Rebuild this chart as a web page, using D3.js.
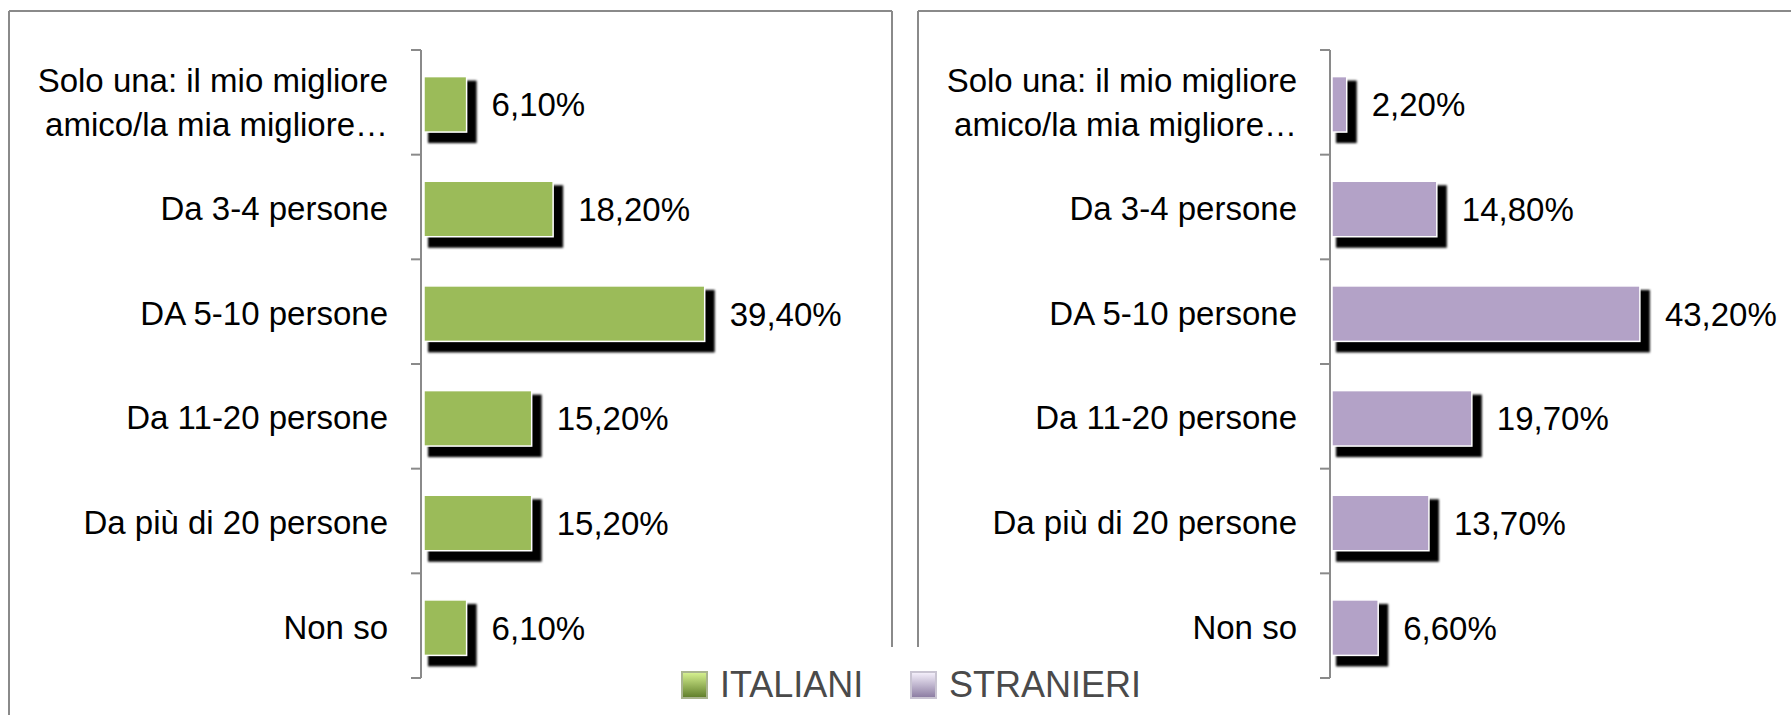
<!DOCTYPE html>
<html>
<head>
<meta charset="utf-8">
<script src="https://cdn.jsdelivr.net/npm/d3@7"></script>
<style>
  html, body { margin: 0; padding: 0; background: #fff; }
  svg { display: block; font-family: 'Liberation Sans', Arial, sans-serif; }
</style>
</head>
<body>
<div id="chart"></div>
<script>
// categories (top to bottom), each as its printed lines
const categories = [
  ['Solo una: il mio migliore', 'amico/la mia migliore…'],
  ['Da 3-4 persone'],
  ['DA 5-10 persone'],
  ['Da 11-20 persone'],
  ['Da più di 20 persone'],
  ['Non so'],
]
const seriesNames = ['ITALIANI', 'STRANIERI']
const italiani = [6.1, 18.2, 39.4, 15.2, 15.2, 6.1]
const stranieri = [2.2, 14.8, 43.2, 19.7, 13.7, 6.6]

const canvasWidth = 1791
const canvasHeight = 715
const borderColor = '#8a8a8a'

const panels = [
  {name: seriesNames[0], values: italiani, color: '#9bbb59', axisX: 421, zeroX: 423},
  {name: seriesNames[1], values: stranieri, color: '#b3a2c7', axisX: 1330, zeroX: 1331},
]

const fmt = v => v.toFixed(2).replace('.', ',') + '%'

const svg = d3
  .select('#chart')
  .append('svg')
  .attr('width', canvasWidth)
  .attr('height', canvasHeight)

const defs = svg.append('defs')
defs
  .append('filter')
  .attr('id', 'soft')
  .attr('x', '-10%')
  .attr('y', '-10%')
  .attr('width', '120%')
  .attr('height', '120%')
  .append('feGaussianBlur')
  .attr('stdDeviation', 0.9)

// frames of the two panels (cropped screenshot look)
const frame = svg.append('g').attr('stroke', borderColor).attr('stroke-width', 2).attr('fill', 'none')
frame.append('line').attr('x1', 9).attr('x2', 892).attr('y1', 11).attr('y2', 11)
frame.append('line').attr('x1', 9).attr('x2', 9).attr('y1', 11).attr('y2', 715)
frame.append('line').attr('x1', 892).attr('x2', 892).attr('y1', 11).attr('y2', 647)
frame.append('line').attr('x1', 918).attr('x2', 1791).attr('y1', 11).attr('y2', 11)
frame.append('line').attr('x1', 918).attr('x2', 918).attr('y1', 11).attr('y2', 647)

const yScale = d3
  .scaleBand()
  .domain(d3.range(categories.length))
  .range([50, 678])
  .paddingInner(0.47)
  .paddingOuter(0.235)

const xScale = d3.scaleLinear().domain([0, 50]).range([0, 357.5])

panels.forEach(p => {
  const g = svg.append('g').attr('transform', `translate(${p.axisX}, 0)`)
  const dz = p.zeroX - p.axisX

  // category axis line and ticks on band boundaries
  const half = (yScale.step() - yScale.bandwidth()) / 2
  const bounds = yScale.domain().map(i => yScale(i) - half)
  bounds.push(yScale.range()[1])
  g.append('line')
    .attr('x1', 0)
    .attr('x2', 0)
    .attr('y1', bounds[0])
    .attr('y2', bounds[bounds.length - 1])
    .attr('stroke', borderColor)
    .attr('stroke-width', 2)
  g.selectAll('line.tick')
    .data(bounds)
    .enter()
    .append('line')
    .attr('class', 'tick')
    .attr('x1', -10)
    .attr('x2', 0)
    .attr('y1', d => d)
    .attr('y2', d => d)
    .attr('stroke', borderColor)
    .attr('stroke-width', 2)

  // category labels
  const labels = g
    .selectAll('text.cat')
    .data(categories)
    .enter()
    .append('text')
    .attr('class', 'cat')
    .attr('text-anchor', 'end')
    .attr('font-size', 33)
    .attr('fill', '#000')
  labels.each(function (lines, i) {
    const cy = yScale(i) + yScale.bandwidth() / 2
    const startY = cy + 13 - ((lines.length - 1) * 44) / 2 - (lines.length > 1 ? 1 : 0)
    d3.select(this)
      .selectAll('tspan')
      .data(lines)
      .enter()
      .append('tspan')
      .attr('x', -33)
      .attr('y', (d, j) => startY + j * 44)
      .text(d => d)
  })

  const bars = g
    .selectAll('g.bar')
    .data(p.values)
    .enter()
    .append('g')
    .attr('class', 'bar')
    .attr('transform', `translate(${dz}, 2)`)

  // drop shadow
  bars
    .append('rect')
    .attr('x', 5)
    .attr('y', (d, i) => yScale(i) + 4)
    .attr('width', d => xScale(d) + 5)
    .attr('height', yScale.bandwidth() + 7)
    .attr('fill', '#000')
    .style('filter', 'url(#soft)')

  bars
    .append('rect')
    .attr('x', 1)
    .attr('y', (d, i) => yScale(i))
    .attr('width', d => xScale(d) - 1)
    .attr('height', yScale.bandwidth())
    .attr('fill', p.color)
    .attr('stroke', '#fff')
    .attr('stroke-width', 1.5)

  bars
    .append('text')
    .attr('x', d => xScale(d) + 25)
    .attr('y', (d, i) => yScale(i) + yScale.bandwidth() / 2 + 12)
    .attr('font-size', 33)
    .attr('fill', '#000')
    .text(d => fmt(d))
})

// legend
const legendItems = [
  {name: seriesNames[0], x: 683, top: '#d4ef8e', bottom: '#62802c', edge: '#a9b48e'},
  {name: seriesNames[1], x: 912, top: '#f3eefa', bottom: '#8d7ea3', edge: '#c9c4d2'},
]
legendItems.forEach((it, k) => {
  const grad = defs
    .append('linearGradient')
    .attr('id', `lg${k}`)
    .attr('x1', 0)
    .attr('x2', 0)
    .attr('y1', 0)
    .attr('y2', 1)
  grad.append('stop').attr('offset', '0%').attr('stop-color', it.top)
  grad.append('stop').attr('offset', '100%').attr('stop-color', it.bottom)
  const lg = svg.append('g').attr('transform', `translate(${it.x}, 673)`)
  lg.append('rect')
    .attr('x', -2)
    .attr('y', -2)
    .attr('width', 27)
    .attr('height', 28)
    .attr('fill', it.edge)
  lg.append('rect')
    .attr('width', 23)
    .attr('height', 24)
    .attr('fill', `url(#lg${k})`)
  lg.append('text')
    .attr('x', 37)
    .attr('y', 24)
    .attr('font-size', 36)
    .attr('fill', '#4a4a4a')
    .text(it.name)
})
</script>
</body>
</html>
